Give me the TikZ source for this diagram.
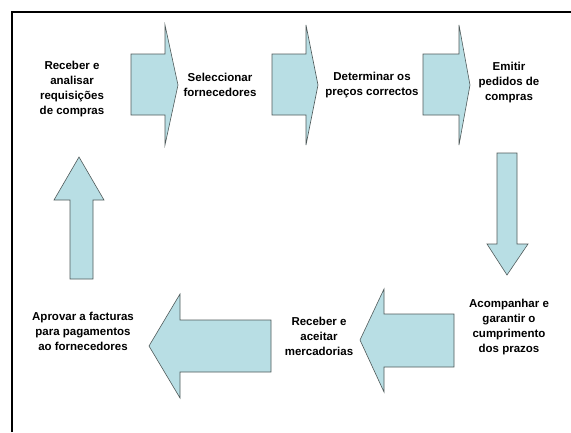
\documentclass[tikz,border=0pt]{standalone}
\usepackage{fontspec}
\setmainfont{Liberation Sans}
\definecolor{arrowfill}{RGB}{184,222,228}
\definecolor{arrowline}{RGB}{80,90,90}
\begin{document}
\begin{tikzpicture}[x=1pt,y=-1pt,
  blockarrow/.style={fill=arrowfill,draw=arrowline,line width=0.6pt,line join=miter},
  lbl/.style={align=center,font=\fontsize{11.5}{15}\selectfont\bfseries,inner sep=0pt}]
\useasboundingbox (0,0) rectangle (571,432);
% frame
\draw[line width=2pt] (12,432) -- (12,12) -- (571,12);
% top row arrows
\draw[blockarrow] (131,54) -- (165,54) -- (165,25) -- (178,85) -- (165,145) -- (165,115) -- (131,115) -- cycle;
\draw[blockarrow] (272,54) -- (306,54) -- (306,25) -- (318,85) -- (306,145) -- (306,115) -- (272,115) -- cycle;
\draw[blockarrow] (423,54) -- (459,54) -- (459,25) -- (470,85) -- (459,145) -- (459,115) -- (423,115) -- cycle;
% down arrow
\draw[blockarrow] (497,153) -- (517,153) -- (517,244) -- (528,244) -- (507,275) -- (487,244) -- (497,244) -- cycle;
% lower left-pointing arrows
\draw[blockarrow] (454,314) -- (384,314) -- (384,289) -- (360,340) -- (384,392) -- (384,367) -- (454,367) -- cycle;
\draw[blockarrow] (271,320) -- (180,320) -- (180,294) -- (149,346) -- (180,398) -- (180,372) -- (271,372) -- cycle;
% up arrow
\draw[blockarrow] (70,279) -- (70,200) -- (54,200) -- (79,157) -- (104,200) -- (93,200) -- (93,279) -- cycle;
% labels
\node[lbl] (t1) at (72,89) {Receber e\\analisar\\requisições\\de compras};
\node[lbl] (t2) at (220,85) {Seleccionar\\fornecedores};
\node[lbl] (t3) at (372,85) {Determinar os\\preços correctos};
\node[lbl] (t4) at (509,83) {Emitir\\pedidos de\\compras};
\node[lbl] (t5) at (509,327) {Acompanhar e\\garantir o\\cumprimento\\dos prazos};
\node[lbl] (t6) at (319,336) {Receber e\\aceitar\\mercadorias};
\node[lbl] (t7) at (83,331) {Aprovar a facturas\\para pagamentos\\ao fornecedores};
\end{tikzpicture}
\end{document}
